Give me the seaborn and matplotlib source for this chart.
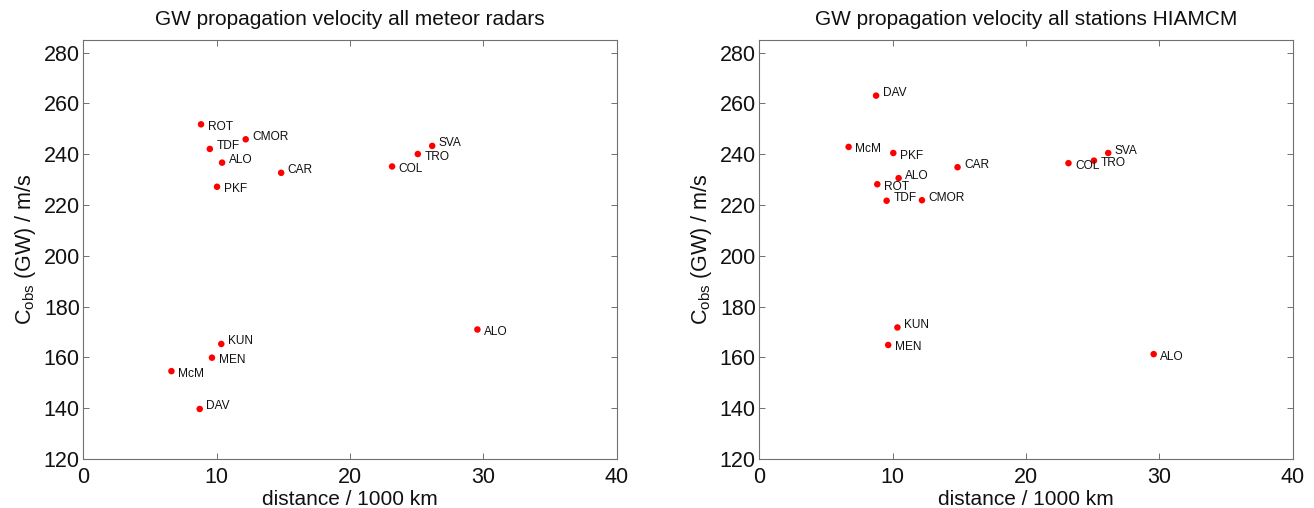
import matplotlib
matplotlib.use("Agg")
import matplotlib.pyplot as plt
import seaborn as sns
import pandas as pd

# ---- data ----
stations_mr = ['ROT', 'TDF', 'CMOR', 'ALO', 'CAR', 'PKF', 'COL', 'TRO', 'SVA',
               'ALO', 'KUN', 'MEN', 'McM', 'DAV']
dist_mr = [8.83, 9.49, 12.18, 10.41, 14.84, 10.03, 23.16, 25.09, 26.17,
           29.56, 10.35, 9.65, 6.61, 8.73]
vel_mr = [251.8, 242.1, 245.9, 236.7, 232.7, 227.2, 235.2, 240.1, 243.3,
          171.0, 165.3, 159.9, 154.6, 139.7]
side_mr = [-1, 1, 1, 1, 1, -1, -1, -1, 1, -1, 1, -1, -1, 1]

stations_hi = ['DAV', 'McM', 'PKF', 'CAR', 'ALO', 'ROT', 'TDF', 'CMOR', 'COL',
               'TRO', 'SVA', 'KUN', 'MEN', 'ALO']
dist_hi = [8.76, 6.70, 10.05, 14.87, 10.45, 8.85, 9.55, 12.20, 23.19,
           25.10, 26.17, 10.36, 9.67, 29.58]
vel_hi = [263.1, 242.9, 240.5, 234.9, 230.6, 228.2, 221.7, 221.9, 236.5,
          237.5, 240.5, 171.8, 164.9, 161.3]
side_hi = [1, -1, -1, 1, 1, -1, 1, 1, -1, -1, 1, 1, -1, -1]

titles = ['GW propagation velocity all meteor radars',
          'GW propagation velocity all stations HIAMCM']
xticks = [0, 10, 20, 30, 40]
yticks = [120, 140, 160, 180, 200, 220, 240, 260, 280]

sns.set_style('white')
plt.rcParams['font.family'] = ['Liberation Sans', 'DejaVu Sans']
plt.rcParams['mathtext.default'] = 'regular'

fig = plt.figure(figsize=(13.14, 5.08), dpi=100)
ax_w = 533.3 / 1314
ax_h = 419 / 508
ax_b = 1 - 459 / 508
axes = [fig.add_axes([83.3 / 1314, ax_b, ax_w, ax_h]),
        fig.add_axes([759.3 / 1314, ax_b, ax_w, ax_h])]

panels = [(stations_mr, dist_mr, vel_mr, side_mr),
          (stations_hi, dist_hi, vel_hi, side_hi)]

for ax, (names, d, v, side), title in zip(axes, panels, titles):
    df = pd.DataFrame({'distance': d, 'velocity': v, 'station': names})
    sns.scatterplot(data=df, x='distance', y='velocity', ax=ax,
                    color='#ff0000', edgecolor='none', s=22, legend=False,
                    zorder=3)
    for n, x, y, s in zip(names, d, v, side):
        ax.annotate(n, (x, y), xytext=(4.8, 1.8 * s), textcoords='offset points',
                    ha='left', va='center', fontsize=8.6, color='#111111')
    ax.set_xlim(0, 40)
    ax.set_ylim(120, 285)
    ax.set_xticks(xticks)
    ax.set_yticks(yticks)
    ax.tick_params(direction='in', length=4.5, width=0.7, color='#707070',
                   labelsize=15.5, labelcolor='#111111',
                   top=True, right=True, bottom=True, left=True)
    ax.tick_params(axis='x', pad=5.5)
    ax.tick_params(axis='y', pad=2.5)
    for sp in ax.spines.values():
        sp.set_visible(True)
        sp.set_color('#707070')
        sp.set_linewidth(0.8)
    ax.set_xlabel('distance / 1000 km', fontsize=15, labelpad=1.5, color='#111111')
    ax.set_ylabel(r'$C_{obs}$ (GW) / m/s', fontsize=15.5, labelpad=4, color='#111111')
    ax.set_title(title, fontsize=15, pad=10.5, color='#111111')

fig.savefig('out.png', dpi=100)
